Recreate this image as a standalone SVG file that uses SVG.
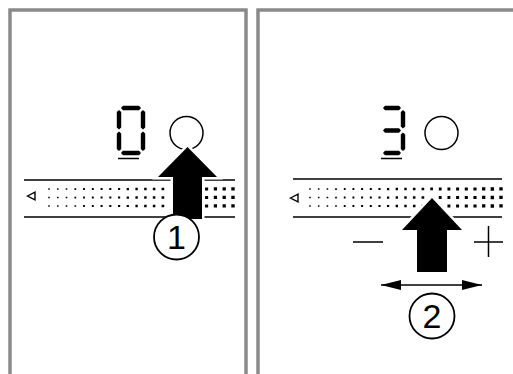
<svg xmlns="http://www.w3.org/2000/svg" width="513" height="374" viewBox="0 0 513 374">
<style>
.frame{fill:none;stroke:#8a8a8a;stroke-width:3.5}
.seg{fill:#000}
.ln{stroke:#000;stroke-width:1.5;fill:none}
.tri{fill:none;stroke:#000;stroke-width:1.4;stroke-linejoin:miter}
.arrow{fill:#000;stroke:#fff;stroke-width:5;stroke-linejoin:miter;paint-order:stroke}
.num{fill:#fff;stroke:#000;stroke-width:1.8}
.lbl{font-family:"Liberation Sans",Arial,sans-serif;font-size:34px;text-anchor:middle;fill:#000}
</style>
<defs>
<marker id="ah" viewBox="0 0 20 10" refX="20" refY="5" markerWidth="20" markerHeight="10" markerUnits="userSpaceOnUse" orient="auto-start-reverse">
<path d="M0,0 L20,5 L0,10 Z" fill="#000"/>
</marker>
</defs>
<g id="panel-left">
<rect class="frame" x="10" y="10" width="236" height="380"/>
<g id="digit-0">
<polygon class="seg" points="121,108 123,105.8 139,105.8 141,108 139,110.2 123,110.2"/>
<polygon class="seg" points="121,153 123,150.8 139,150.8 141,153 139,155.2 123,155.2"/>
<polygon class="seg" points="119,110 121.2,112 121.2,127.5 119,129.5 116.8,127.5 116.8,112"/>
<polygon class="seg" points="119,131.5 121.2,133.5 121.2,149 119,151 116.8,149 116.8,133.5"/>
<polygon class="seg" points="143,110 145.2,112 145.2,127.5 143,129.5 140.8,127.5 140.8,112"/>
<polygon class="seg" points="143,131.5 145.2,133.5 145.2,149 143,151 140.8,149 140.8,133.5"/>
<line class="ln" x1="118" y1="158.5" x2="139" y2="158.5"/>
</g>
<circle class="ln" cx="186.5" cy="133" r="16.5"/>
<g id="slider-left">
<line class="ln" x1="24" y1="180" x2="235" y2="180"/>
<line class="ln" x1="24" y1="217" x2="235" y2="217"/>
<polygon class="tri" points="27.5,196 35,192.2 35,199.8"/>
<g stroke="#000">
<line x1="49" y1="188.3" x2="49" y2="206.7" stroke-width="1.5" stroke-dasharray="1.5 7"/>
<line x1="57.8" y1="188.3" x2="57.8" y2="206.7" stroke-width="1.55" stroke-dasharray="1.55 6.95"/>
<line x1="66.5" y1="188.2" x2="66.5" y2="206.8" stroke-width="1.6" stroke-dasharray="1.6 6.9"/>
<line x1="75.3" y1="188.2" x2="75.3" y2="206.8" stroke-width="1.7" stroke-dasharray="1.7 6.8"/>
<line x1="84" y1="188.1" x2="84" y2="206.9" stroke-width="1.8" stroke-dasharray="1.8 6.7"/>
<line x1="92.8" y1="188.1" x2="92.8" y2="206.9" stroke-width="1.9" stroke-dasharray="1.9 6.6"/>
<line x1="101.6" y1="188" x2="101.6" y2="207" stroke-width="2" stroke-dasharray="2 6.5"/>
<line x1="110.3" y1="188" x2="110.3" y2="207" stroke-width="2.05" stroke-dasharray="2.05 6.45"/>
<line x1="119.1" y1="187.9" x2="119.1" y2="207.1" stroke-width="2.15" stroke-dasharray="2.15 6.35"/>
<line x1="127.8" y1="187.9" x2="127.8" y2="207.1" stroke-width="2.25" stroke-dasharray="2.25 6.25"/>
<line x1="136.6" y1="187.8" x2="136.6" y2="207.2" stroke-width="2.35" stroke-dasharray="2.35 6.15"/>
<line x1="145.4" y1="187.8" x2="145.4" y2="207.2" stroke-width="2.45" stroke-dasharray="2.45 6.05"/>
<line x1="154.1" y1="187.7" x2="154.1" y2="207.3" stroke-width="2.55" stroke-dasharray="2.55 5.95"/>
<line x1="162.9" y1="187.7" x2="162.9" y2="207.3" stroke-width="2.65" stroke-dasharray="2.65 5.85"/>
<line x1="206.6" y1="187.4" x2="206.6" y2="207.6" stroke-width="3.1" stroke-dasharray="3.1 5.4"/>
<line x1="215.4" y1="187.3" x2="215.4" y2="207.7" stroke-width="3.2" stroke-dasharray="3.2 5.3"/>
<line x1="224.2" y1="187.3" x2="224.2" y2="207.7" stroke-width="3.3" stroke-dasharray="3.3 5.2"/>
<line x1="233" y1="187.2" x2="233" y2="207.8" stroke-width="3.4" stroke-dasharray="3.4 5.1"/>
</g>
</g>
</g>
<g id="panel-right">
<rect class="frame" x="258" y="10" width="270" height="380"/>
<g id="digit-3">
<polygon class="seg" points="383,108 385,105.8 399,105.8 401,108 399,110.2 385,110.2"/>
<polygon class="seg" points="383,130.5 385,128.3 399,128.3 401,130.5 399,132.7 385,132.7"/>
<polygon class="seg" points="383,153 385,150.8 399,150.8 401,153 399,155.2 385,155.2"/>
<polygon class="seg" points="403,110 405.2,112 405.2,126.5 403,128.5 400.8,126.5 400.8,112"/>
<polygon class="seg" points="403,132.5 405.2,134.5 405.2,149 403,151 400.8,149 400.8,134.5"/>
<line class="ln" x1="381" y1="158.5" x2="402" y2="158.5"/>
</g>
<circle class="ln" cx="441.5" cy="133" r="16.5"/>
<g id="slider-right">
<line class="ln" x1="293" y1="179" x2="502" y2="179"/>
<line class="ln" x1="293" y1="217" x2="502" y2="217"/>
<polygon class="tri" points="290.5,198 298,194.2 298,201.8"/>
<g stroke="#000">
<line x1="310" y1="188.3" x2="310" y2="206.7" stroke-width="1.5" stroke-dasharray="1.5 7"/>
<line x1="318.7" y1="188.3" x2="318.7" y2="206.7" stroke-width="1.55" stroke-dasharray="1.55 6.95"/>
<line x1="327.4" y1="188.2" x2="327.4" y2="206.8" stroke-width="1.6" stroke-dasharray="1.6 6.9"/>
<line x1="336" y1="188.2" x2="336" y2="206.8" stroke-width="1.7" stroke-dasharray="1.7 6.8"/>
<line x1="344.7" y1="188.1" x2="344.7" y2="206.9" stroke-width="1.8" stroke-dasharray="1.8 6.7"/>
<line x1="353.4" y1="188.1" x2="353.4" y2="206.9" stroke-width="1.9" stroke-dasharray="1.9 6.6"/>
<line x1="362.1" y1="188" x2="362.1" y2="207" stroke-width="1.95" stroke-dasharray="1.95 6.55"/>
<line x1="370.8" y1="188" x2="370.8" y2="207" stroke-width="2.05" stroke-dasharray="2.05 6.45"/>
<line x1="379.5" y1="187.9" x2="379.5" y2="207.1" stroke-width="2.15" stroke-dasharray="2.15 6.35"/>
<line x1="388.1" y1="187.9" x2="388.1" y2="207.1" stroke-width="2.25" stroke-dasharray="2.25 6.25"/>
<line x1="396.8" y1="187.8" x2="396.8" y2="207.2" stroke-width="2.35" stroke-dasharray="2.35 6.15"/>
<line x1="405.5" y1="187.8" x2="405.5" y2="207.2" stroke-width="2.45" stroke-dasharray="2.45 6.05"/>
<line x1="414.2" y1="187.7" x2="414.2" y2="207.3" stroke-width="2.55" stroke-dasharray="2.55 5.95"/>
<line x1="422.9" y1="187.7" x2="422.9" y2="207.3" stroke-width="2.65" stroke-dasharray="2.65 5.85"/>
<line x1="431.6" y1="187.6" x2="431.6" y2="207.4" stroke-width="2.7" stroke-dasharray="2.7 5.8"/>
<line x1="440.2" y1="187.6" x2="440.2" y2="207.4" stroke-width="2.8" stroke-dasharray="2.8 5.7"/>
<line x1="448.9" y1="187.5" x2="448.9" y2="207.5" stroke-width="2.9" stroke-dasharray="2.9 5.6"/>
<line x1="457.6" y1="187.5" x2="457.6" y2="207.5" stroke-width="3" stroke-dasharray="3 5.5"/>
<line x1="466.3" y1="187.4" x2="466.3" y2="207.6" stroke-width="3.1" stroke-dasharray="3.1 5.4"/>
<line x1="475" y1="187.4" x2="475" y2="207.6" stroke-width="3.2" stroke-dasharray="3.2 5.3"/>
<line x1="483.7" y1="187.3" x2="483.7" y2="207.7" stroke-width="3.3" stroke-dasharray="3.3 5.2"/>
<line x1="492.3" y1="187.3" x2="492.3" y2="207.7" stroke-width="3.35" stroke-dasharray="3.35 5.15"/>
<line x1="501" y1="187.2" x2="501" y2="207.8" stroke-width="3.4" stroke-dasharray="3.4 5.1"/>
</g>
</g>
<line class="ln" x1="353" y1="242" x2="383" y2="242"/>
<line class="ln" x1="474" y1="242" x2="503" y2="242"/>
<line class="ln" x1="488.5" y1="226" x2="488.5" y2="257"/>
</g>
<g id="connectors">
<path class="arrow" d="M187.5,147 L217,177 L202,177 L202,219 L173,219 L173,177 L158,177 Z"/>
<path class="arrow" d="M432,198 L462,230 L447,230 L447,272 L417,272 L417,230 L402,230 Z"/>
<line x1="381" y1="285" x2="482" y2="285" stroke="#000" stroke-width="1.5" marker-start="url(#ah)" marker-end="url(#ah)"/>
</g>
<g id="callout-1">
<circle class="num" cx="176.5" cy="237" r="22.5"/>
<text class="lbl" x="176.5" y="249">1</text>
</g>
<g id="callout-2">
<circle class="num" cx="432" cy="316" r="22.5"/>
<text class="lbl" x="432" y="328">2</text>
</g>
</svg>
